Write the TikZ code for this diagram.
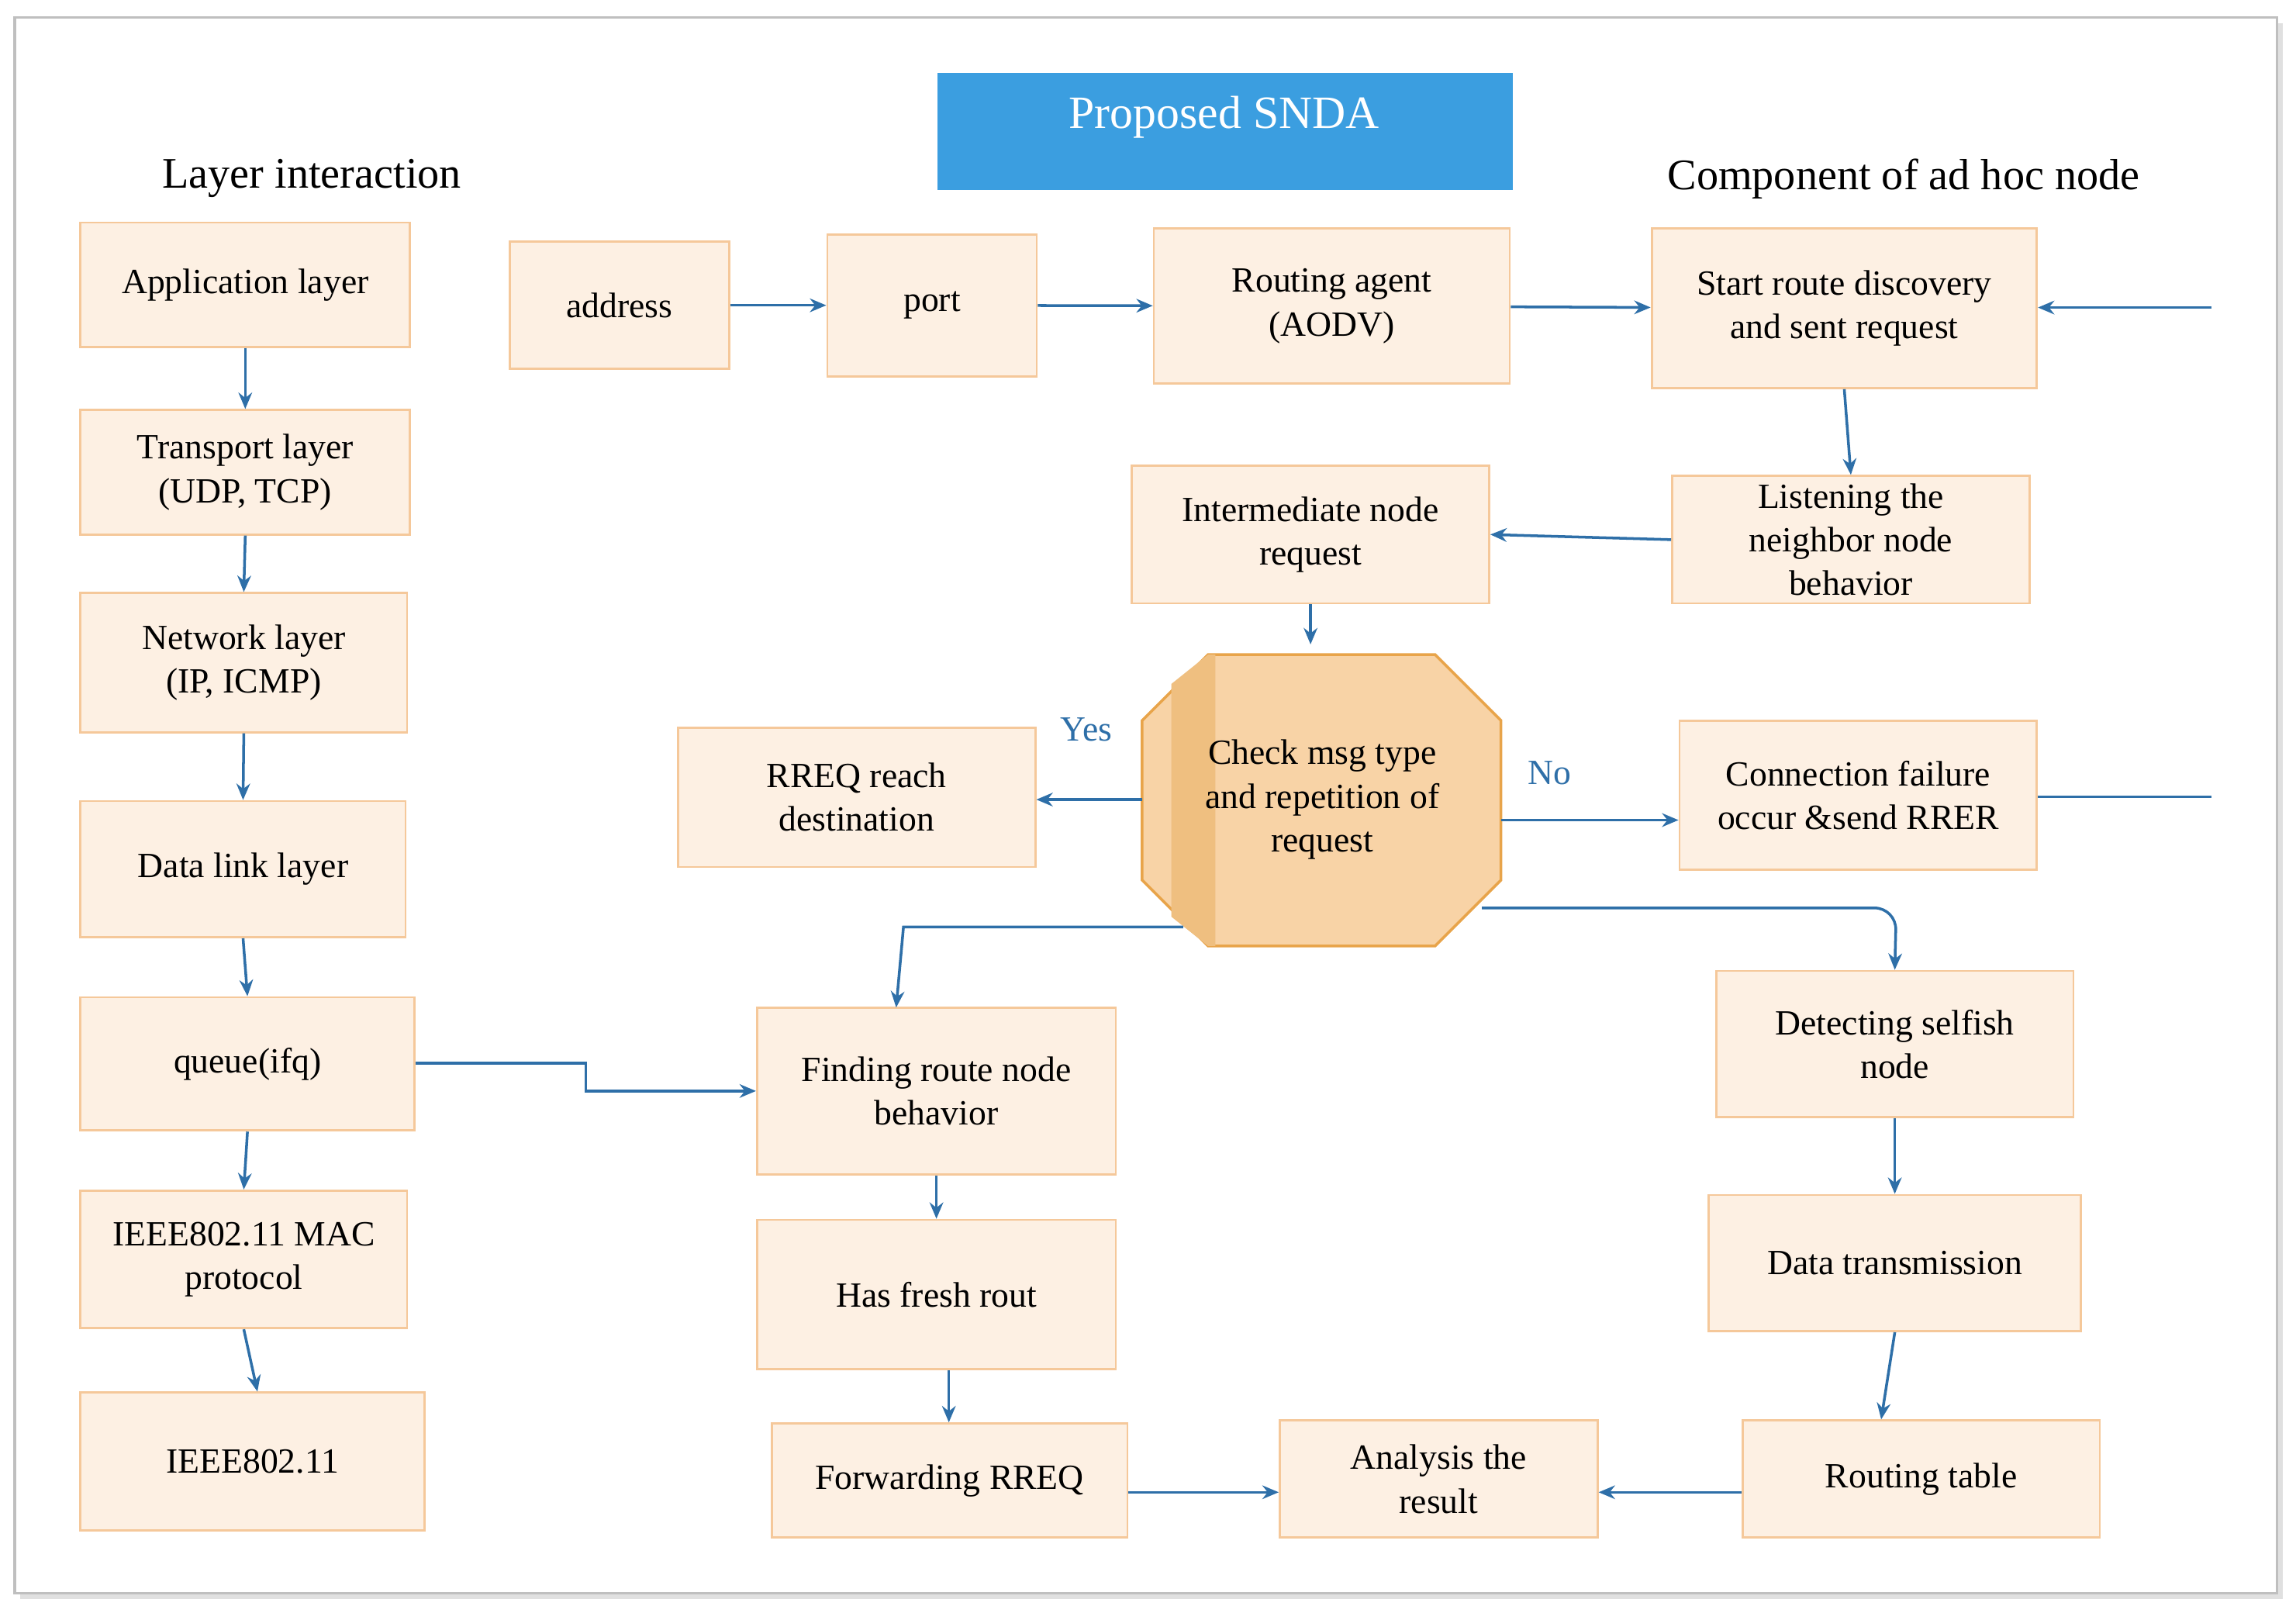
\documentclass[tikz,border=0pt]{standalone}
\usepackage{fontspec}
\setmainfont{Liberation Serif}
\usetikzlibrary{arrows.meta,shapes.geometric}
\definecolor{boxfill}{HTML}{FDF0E3}
\definecolor{boxline}{HTML}{F5C89A}
\definecolor{arr}{HTML}{2E6FA8}
\definecolor{titleblue}{HTML}{3B9EE0}
\definecolor{octfill}{HTML}{F8D3A6}
\definecolor{octline}{HTML}{E8A44A}
\begin{document}
\begin{tikzpicture}[x=0.01889cm,y=-0.01889cm,
  box/.style={draw=boxline,fill=boxfill,line width=0.8pt,align=center,font=\fontsize{13}{16}\selectfont,inner sep=0pt},
  conn/.style={draw=arr,line width=1pt,-{Stealth[length=6pt,width=5pt]}},
  plain/.style={draw=arr,line width=1pt}]
\useasboundingbox (0,0) rectangle (1568,1101);
\fill[black!12] (14,16) rectangle (1559,1092);
\draw[black!25,fill=white,line width=1pt] (10,12) rectangle (1555,1088);
% title and headers
\fill[titleblue] (640,50) rectangle (1033,130);
\node[text=white,font=\fontsize{17}{20}\selectfont] (ttext) at (836,80) {Proposed SNDA};
\node[font=\fontsize{16}{19}\selectfont] (hl) at (213,122) {Layer interaction};
\node[font=\fontsize{16}{19}\selectfont] (hr) at (1300,122) {Component of ad hoc node};
% boxes by corners
\newcommand{\bx}[6]{\node[box,minimum width={(#4-#2)*0.01889cm},minimum height={(#5-#3)*0.01889cm}] (#1) at ({(#2+#4)/2},{(#3+#5)/2}) {#6};}
\bx{app}{55}{152}{280}{237}{Application layer}
\bx{tra}{55}{280}{280}{365}{Transport layer\\(UDP, TCP)}
\bx{net}{55}{405}{278}{500}{Network layer\\(IP, ICMP)}
\bx{dll}{55}{547}{277}{640}{Data link layer}
\bx{que}{55}{681}{283}{772}{queue(ifq)}
\bx{mac}{55}{813}{278}{907}{IEEE802.11 MAC\\protocol}
\bx{ieee}{55}{951}{290}{1045}{IEEE802.11}
\bx{addr}{348}{165}{498}{252}{address}
\bx{port}{565}{160}{708}{257}{port}
\bx{ra}{788}{156}{1031}{262}{Routing agent\\(AODV)}
\bx{srd}{1128}{156}{1391}{265}{Start route discovery\\and sent request}
\bx{lis}{1142}{325}{1386}{412}{Listening the\\neighbor node\\behavior}
\bx{inr}{773}{318}{1017}{412}{Intermediate node\\request}
\bx{rrq}{463}{497}{707}{592}{RREQ reach\\destination}
\bx{cf}{1147}{492}{1391}{594}{Connection failure\\occur \&send RRER}
\bx{frn}{517}{688}{762}{802}{Finding route node\\behavior}
\bx{hfr}{517}{833}{762}{935}{Has fresh rout}
\bx{fwd}{527}{972}{770}{1050}{Forwarding RREQ}
\bx{ana}{874}{970}{1091}{1050}{Analysis the\\result}
\bx{rt}{1190}{970}{1434}{1050}{Routing table}
\bx{dsn}{1172}{663}{1416}{763}{Detecting selfish\\node}
\bx{dtx}{1167}{816}{1421}{909}{Data transmission}
% octagon
\draw[octline,fill=octfill,line width=1pt] (825,447) -- (980,447) -- (1025,492) -- (1025,601) -- (980,646) -- (825,646) -- (780,601) -- (780,492) -- cycle;
\fill[octline!70] (800,467) -- (825,447) -- (830,447) -- (830,646) -- (825,646) -- (800,626) -- cycle;
\node[align=center,font=\fontsize{13}{16}\selectfont] (oct) at (903,546) {Check msg type\\and repetition of\\request};
\coordinate (octT) at (895,440);
\coordinate (octL) at (780,546);
\coordinate (octR) at (1025,560);
\coordinate (octBL) at (808,633);
\coordinate (octBR) at (1012,620);
\node[text=arr,font=\fontsize{13}{16}\selectfont] (yes) at (742,498) {Yes};
\node[text=arr,font=\fontsize{13}{16}\selectfont] (no) at (1058,528) {No};
% left column
\draw[conn] (app.south) -- (tra.north);
\draw[conn] (tra.south) -- (net.north);
\draw[conn] (net.south) -- (dll.north);
\draw[conn] (dll.south) -- (que.north);
\draw[conn] (que.south) -- (mac.north);
\draw[conn] (mac.south) -- ([xshift=5]ieee.north -| mac.south);
\coordinate (q1) at (400,726);
\draw[conn] (que.east |- q1) -- (q1) -- (400,745) -- (frn.west |- 0,745);
% top row
\draw[conn] (addr) -- (port);
\draw[conn] (port) -- (ra);
\draw[conn] (ra) -- (srd);
\coordinate (inR) at (1510,210);
\draw[conn] (inR) -- (srd.east |- inR);
\draw[conn] (srd.south) -- (lis.north);
\draw[conn] (lis.west) -- (inr.east);
\draw[conn] (inr.south) -- (octT);
\draw[conn] (octL) -- (rrq.east |- octL);
\draw[conn] (octR) -- (cf.west |- octR);
\coordinate (outR) at (1510,544);
\draw[plain] (cf.east |- outR) -- (outR);
\draw[conn] (octBL) -- (617,633) -- (612,688);
\draw[conn,rounded corners=8pt] (octBR) -- (1295,620) -- (dsn.north);
\draw[conn] (dsn.south) -- (dtx.north);
\draw[conn] (dtx.south) -- ([xshift=-5]rt.north -| dtx.south);
\draw[conn] (rt.west |- 0,1019) -- (ana.east |- 0,1019);
\draw[conn] (fwd.east |- 0,1019) -- (ana.west |- 0,1019);
\draw[conn] (frn.south) -- (hfr.north);
\draw[conn] (hfr.south -| 648,0) -- (fwd.north -| 648,0);
\end{tikzpicture}
\end{document}
